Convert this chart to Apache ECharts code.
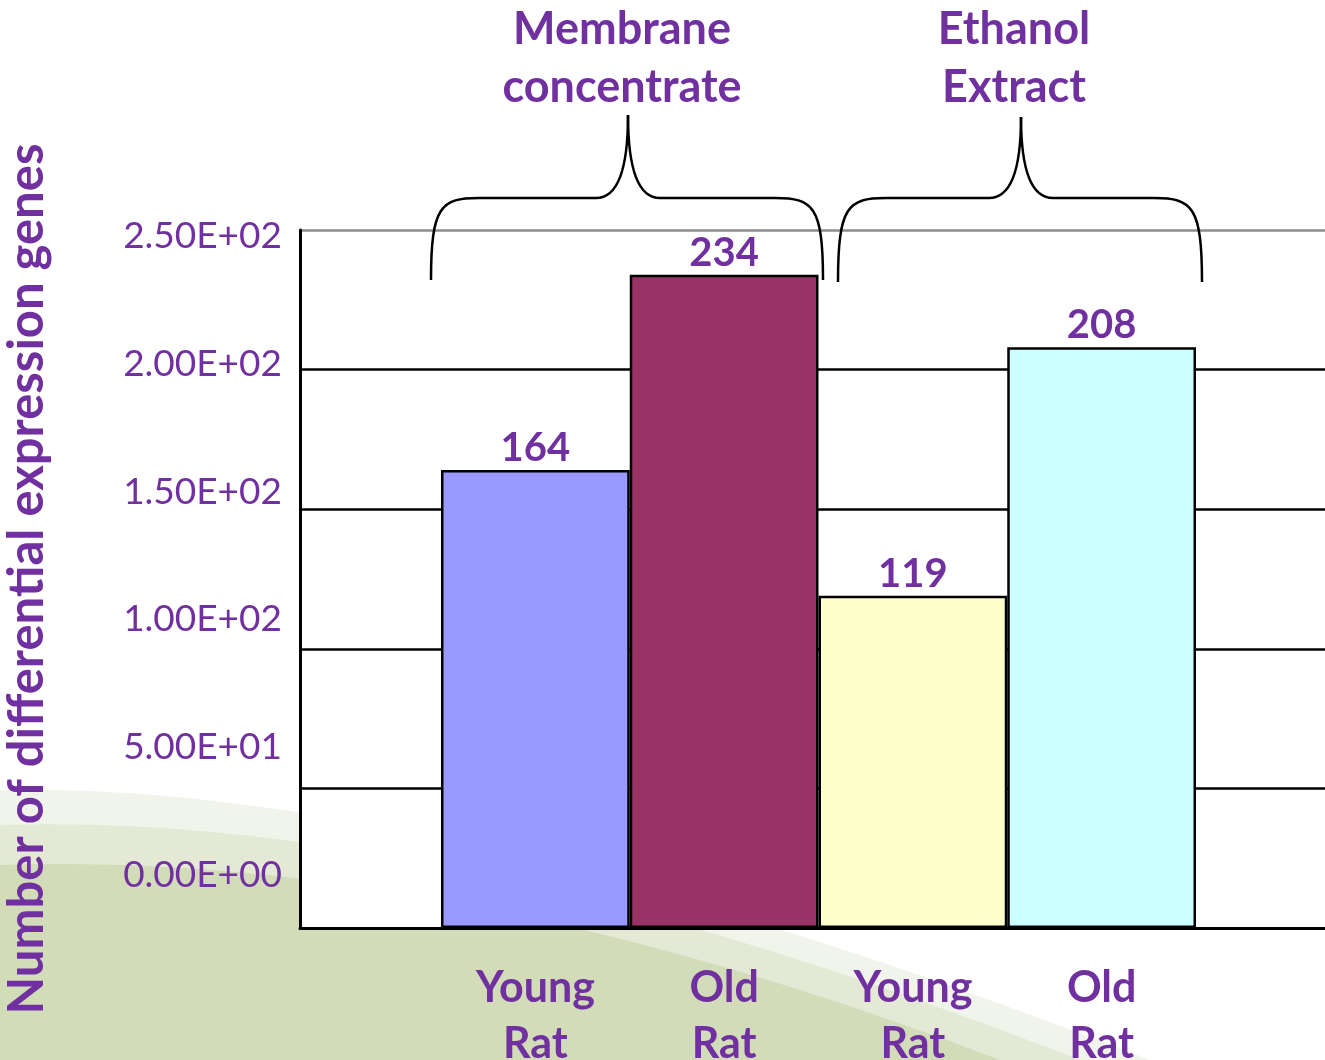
<!DOCTYPE html>
<html>
<head>
<meta charset="utf-8">
<script src="https://cdn.jsdelivr.net/npm/echarts@6/dist/echarts.min.js"></script>
<style>
  html, body { margin: 0; padding: 0; background: #fff; }
  #chart { width: 1325px; height: 1060px; }
</style>
</head>
<body>
<div id="chart"></div>
<script>
// data
const categories = ['Young\nRat', 'Old\nRat', 'Young\nRat', 'Old\nRat'];
const geneCounts = [164, 234, 119, 208];
const barColors = ['#9999FF', '#993366', '#FFFFCC', '#CCFFFF'];
const tickLabels = ['0.00E+00', '5.00E+01', '1.00E+02', '1.50E+02', '2.00E+02', '2.50E+02'];
const groupNames = ['Membrane\nconcentrate', 'Ethanol\nExtract'];

const purple = '#7030A0';
const font = 'Lato, "Open Sans", sans-serif';

// background swoosh outline: quadratic curve sampled into polygon points
function swoosh(y0, cx, cy, x1) {
  const pts = [];
  for (let t = 0; t <= 1.0001; t += 0.05) {
    const x = 2 * (1 - t) * t * cx + t * t * x1;
    const y = (1 - t) * (1 - t) * y0 + 2 * (1 - t) * t * cy + t * t * 1060;
    pts.push([x, y]);
  }
  pts.push([0, 1060]);
  return pts;
}

// curly brace made of bezier pieces
function brace(xl, xr, xm, yTop, yBar, yEnd) {
  const st = { stroke: '#000', lineWidth: 2.5, fill: null };
  return [
    { type: 'bezierCurve', z: 10, shape: { x1: xl, y1: yEnd, cpx1: xl, cpy1: yBar + 8, cpx2: xl + 10, cpy2: yBar, x2: xl + 48, y2: yBar }, style: st },
    { type: 'line', z: 10, shape: { x1: xl + 48, y1: yBar, x2: xm - 32, y2: yBar }, style: st },
    { type: 'bezierCurve', z: 10, shape: { x1: xm - 32, y1: yBar, cpx1: xm - 8, cpy1: yBar, cpx2: xm, cpy2: yBar - 35, x2: xm, y2: yTop }, style: st },
    { type: 'bezierCurve', z: 10, shape: { x1: xm, y1: yTop, cpx1: xm, cpy1: yBar - 35, cpx2: xm + 8, cpy2: yBar, x2: xm + 32, y2: yBar }, style: st },
    { type: 'line', z: 10, shape: { x1: xm + 32, y1: yBar, x2: xr - 48, y2: yBar }, style: st },
    { type: 'bezierCurve', z: 10, shape: { x1: xr - 48, y1: yBar, cpx1: xr - 10, cpy1: yBar, cpx2: xr, cpy2: yBar + 8, x2: xr, y2: yEnd }, style: st }
  ];
}

const chart = echarts.init(document.getElementById('chart'));

const option = {
  backgroundColor: '#fff',
  animation: false,
  textStyle: { fontFamily: font },
  grid: [
    // gridlines + axes frame
    { left: 300, top: 230, width: 1045, height: 698, show: true, backgroundColor: '#fff', borderWidth: 0, outerBoundsMode: 'none', containLabel: false },
    // bars
    { left: 441, top: 230, width: 755, height: 698, outerBoundsMode: 'none', containLabel: false },
    // tick labels (drawn a bit off the gridlines like the original slide)
    { left: 300, top: 236, width: 1, height: 639, outerBoundsMode: 'none', containLabel: false }
  ],
  xAxis: [
    { gridIndex: 0, type: 'value', min: 0, max: 1,
      axisLine: { show: true, onZero: false, lineStyle: { color: '#000', width: 3 } },
      axisTick: { show: false }, axisLabel: { show: false }, splitLine: { show: false } },
    { gridIndex: 1, type: 'category', data: categories,
      axisLine: { show: false }, axisTick: { show: false },
      axisLabel: { color: purple, fontSize: 43, fontWeight: 'bold', lineHeight: 56, margin: 32, fontFamily: font } },
    { gridIndex: 2, type: 'value', min: 0, max: 1, show: false }
  ],
  yAxis: [
    { gridIndex: 0, type: 'value', min: 0, max: 250, interval: 50,
      name: 'Number of differential expression genes',
      nameLocation: 'middle', nameRotate: 90, nameGap: 248,
      nameTextStyle: { color: purple, fontSize: 49, fontWeight: 'bold', fontFamily: font },
      axisLine: { show: true, lineStyle: { color: '#000', width: 3 } },
      axisTick: { show: false }, axisLabel: { show: false },
      splitLine: { show: true, lineStyle: { color: ['#000', '#000', '#000', '#000', '#000', '#8c8c8c'], width: 2.5 } } },
    { gridIndex: 1, type: 'value', min: 0, max: 250, show: false },
    { gridIndex: 2, type: 'category', data: tickLabels, boundaryGap: false,
      axisLine: { show: false }, axisTick: { show: false }, splitLine: { show: false },
      axisLabel: { color: purple, fontSize: 37, margin: 18, fontFamily: font } }
  ],
  series: [{
    type: 'bar',
    xAxisIndex: 1,
    yAxisIndex: 1,
    barWidth: '100%',
    data: geneCounts.map((v, i) => ({ value: v, itemStyle: { color: barColors[i] } })),
    itemStyle: { borderColor: '#000', borderWidth: 2.5 },
    label: { show: true, position: 'top', distance: 2, color: purple, fontSize: 40, fontWeight: 'bold', fontFamily: font },
    z: 5
  }],
  graphic: [
    // green swoosh in the slide background
    { type: 'polygon', z: -10, shape: { points: swoosh(790, 430, 780, 1150) }, style: { fill: '#f1f4ea' } },
    { type: 'polygon', z: -9, shape: { points: swoosh(825, 440, 810, 1080) }, style: { fill: '#e3e9d4' } },
    { type: 'polygon', z: -8, shape: { points: swoosh(865, 450, 850, 1000) }, style: { fill: '#d3dcb9' } },
    ...brace(431, 823, 628, 115, 198, 280),
    ...brace(838, 1202, 1021, 117, 198, 282),
    // group labels
    { type: 'text', z: 10, x: 622, y: 0, style: { text: groupNames[0], fill: purple, font: 'bold 45px ' + font, textAlign: 'center', lineHeight: 58 } },
    { type: 'text', z: 10, x: 1014, y: 0, style: { text: groupNames[1], fill: purple, font: 'bold 45px ' + font, textAlign: 'center', lineHeight: 58 } }
  ]
};

chart.setOption(option);
</script>
</body>
</html>
